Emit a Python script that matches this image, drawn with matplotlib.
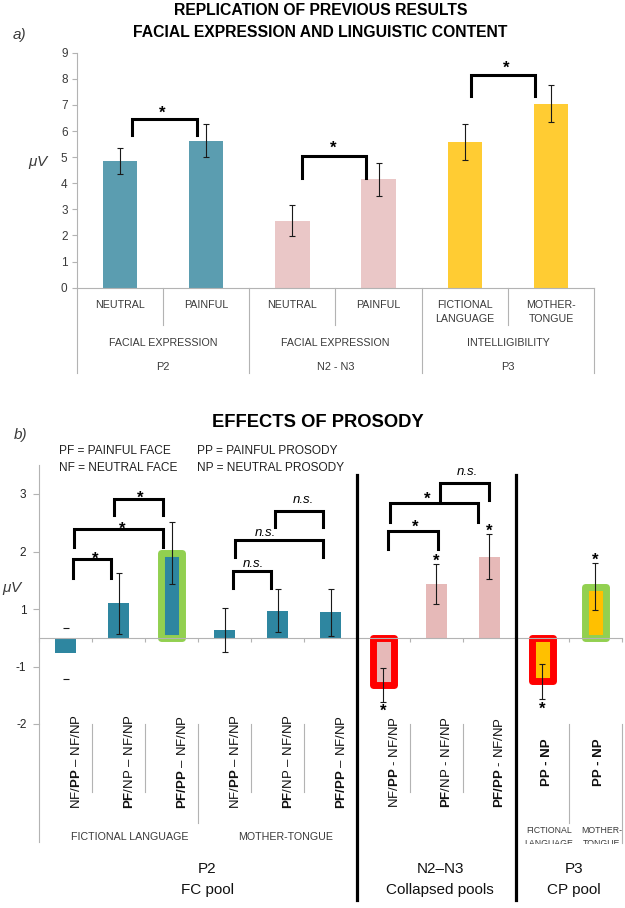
import numpy as np
import matplotlib
matplotlib.use('Agg')
import matplotlib.pyplot as plt
from matplotlib.transforms import Bbox, TransformedBbox, offset_copy

# ------------------------------------------------------------------ data
# panel a: replication
a_names = ['NEUTRAL', 'PAINFUL', 'NEUTRAL', 'PAINFUL', 'FICTIONAL\nLANGUAGE', 'MOTHER-\nTONGUE']
a_factor = ['FACIAL EXPRESSION', 'FACIAL EXPRESSION', 'INTELLIGIBILITY']
a_component = ['P2', 'N2 - N3', 'P3']
a_mean = [4.85, 5.63, 2.57, 4.15, 5.58, 7.05]
a_err = [0.50, 0.63, 0.60, 0.63, 0.68, 0.72]
a_color = ['#5b9db0', '#5b9db0', '#eac7c7', '#eac7c7', '#ffcc33', '#ffcc33']

# panel b: prosody effects (values in tick steps, zero line sits half way
# between the "1" and "-1" ticks as in the original)
b_names = [r'NF/$\mathbf{PP}$ – NF/NP', r'$\mathbf{PF}$/NP – NF/NP', r'$\mathbf{PF/PP}$ – NF/NP',
           r'NF/$\mathbf{PP}$ – NF/NP', r'$\mathbf{PF}$/NP – NF/NP', r'$\mathbf{PF/PP}$ – NF/NP',
           r'NF/$\mathbf{PP}$ - NF/NP', r'$\mathbf{PF}$/NP - NF/NP', r'$\mathbf{PF/PP}$ - NF/NP',
           'PP - NP', 'PP - NP']
b_bold = [False] * 9 + [True] * 2
b_mean = [-0.27, 0.60, 1.48, 0.13, 0.47, 0.44, -0.82, 0.94, 1.41, -0.76, 0.89]
b_err = [0.44, 0.53, 0.54, 0.38, 0.37, 0.41, 0.29, 0.35, 0.39, 0.31, 0.41]
b_color = ['#2e86a0'] * 6 + ['#e6b9b8'] * 3 + ['#ffc000'] * 2
b_frame = ['none', 'none', '#92d050', 'none', 'none', 'none',
           '#ff0000', 'none', 'none', '#ff0000', '#92d050']
b_star = [False] * 6 + [True] * 5
b_errline = [False] + [True] * 10
b_yticks = ['-2', '-1', '1', '2', '3']
b_lang = ['FICTIONAL LANGUAGE', 'MOTHER-TONGUE']
b_lang_p3 = ['FICTIONAL\nLANGUAGE', 'MOTHER-\nTONGUE']
b_component = ['P2', 'N2\u2013N3', 'P3']
b_pool = ['FC pool', 'Collapsed pools', 'CP pool']
legend_rows = [['PF = PAINFUL FACE', 'PP = PAINFUL PROSODY'],
               ['NF = NEUTRAL FACE', 'NP = NEUTRAL PROSODY']]

plt.rcParams['font.family'] = ['Liberation Sans', 'DejaVu Sans']
plt.rcParams['mathtext.fontset'] = 'custom'
plt.rcParams['mathtext.rm'] = 'Liberation Sans'
plt.rcParams['mathtext.bf'] = 'Liberation Sans:bold'
plt.rcParams['mathtext.it'] = 'Liberation Sans:italic'

GRAY = '#b3b3b3'
TXT = '#3a3a3a'
W, H = 625, 908
fig = plt.figure(figsize=(W / 100, H / 100), dpi=100)


def fx(px):
    return px / W


def fy(py):
    return 1 - py / H


def star(ax, x, y, fs=12):
    tr = offset_copy(ax.transData, fig=fig, y=-0.585 * fs, units='points')
    ax.text(x, y, '*', transform=tr, ha='center', va='baseline', fontsize=fs,
            fontweight='bold', clip_on=False)


def ns(ax, x, y, fs=9.5):
    tr = offset_copy(ax.transData, fig=fig, y=-0.26 * fs, units='points')
    ax.text(x, y, 'n.s.', transform=tr, ha='center', va='baseline', fontsize=fs,
            style='italic', clip_on=False)


def bracket(ax, x0, x1, ytop, yleg, lw=2.2):
    ax.plot([x0, x0, x1, x1], [yleg, ytop, ytop, yleg], color='k', lw=lw,
            solid_joinstyle='miter', clip_on=False, zorder=5)


# ------------------------------------------------------------------ panel a
a_bot, a_top = 287.7, 52.7
ax_a = fig.add_axes([fx(76.7), fy(a_bot), fx(594.3 - 76.7), (a_bot - a_top) / H])
xa = np.arange(len(a_mean))
ax_a.bar(xa, a_mean, width=0.4, color=a_color, zorder=2)
ax_a.errorbar(xa, a_mean, yerr=a_err, fmt='none', ecolor='#1a1a1a', elinewidth=0.8,
              capsize=2.4, capthick=0.8, zorder=3)
ax_a.set_xlim(-0.5, 5.5)
ax_a.set_ylim(0, 9)
ax_a.set_yticks(range(10))
for s in ['top', 'right']:
    ax_a.spines[s].set_visible(False)
for s in ['left', 'bottom']:
    ax_a.spines[s].set_color(GRAY)
    ax_a.spines[s].set_linewidth(0.8)
ax_a.tick_params(axis='y', direction='out', length=3.6, width=0.8, color=GRAY,
                 labelcolor=TXT, labelsize=8.5, pad=3)
ax_a.tick_params(axis='x', length=0, labelbottom=False)

tra = ax_a.get_xaxis_transform()
ha_px = a_bot - a_top


def ya(py):
    return (a_bot - py) / ha_px


for k in range(7):
    ax_a.plot([k - 0.5, k - 0.5], [0, ya(373.3 if k % 2 == 0 else 325)], transform=tra,
              color=GRAY, lw=0.8, clip_on=False)
for i, name in enumerate(a_names):
    for j, line in enumerate(name.split('\n')):
        ax_a.text(i, ya(308.3 + 13.4 * j), line, transform=tra, ha='center', va='baseline',
                  fontsize=7.7, color=TXT)
for g in range(3):
    ax_a.text(2 * g + 0.5, ya(345.7), a_factor[g], transform=tra, ha='center',
              va='baseline', fontsize=7.7, color=TXT)
    ax_a.text(2 * g + 0.5, ya(370), a_component[g], transform=tra, ha='center',
              va='baseline', fontsize=7.9, color=TXT)

bracket(ax_a, 0.144, 0.89, 6.46, 5.85)
bracket(ax_a, 2.114, 2.852, 5.06, 4.20)
bracket(ax_a, 4.065, 4.81, 8.15, 7.35)
star(ax_a, 0.49, 6.87)
star(ax_a, 2.47, 5.53)
star(ax_a, 4.48, 8.60)

fig.text(fx(320.5), fy(15.3), 'REPLICATION OF PREVIOUS RESULTS', ha='center',
         va='baseline', fontsize=11.3, fontweight='bold')
fig.text(fx(320.5), fy(37.0), 'FACIAL EXPRESSION AND LINGUISTIC CONTENT', ha='center',
         va='baseline', fontsize=11.3, fontweight='bold')
fig.text(fx(12.7), fy(38.5), 'a)', ha='left', va='baseline', fontsize=11,
         style='italic', color=TXT)
fig.text(fx(28), fy(166), r'$\mu$V', ha='left', va='baseline', fontsize=11,
         style='italic', color=TXT)

# ------------------------------------------------------------------ panel b
b_bot, b_top = 724.0, 465.25
ax_b = fig.add_axes([fx(39.3), fy(b_bot), fx(621.7 - 39.3), (b_bot - b_top) / H])
xb = np.arange(len(b_mean))
bars = ax_b.bar(xb, b_mean, width=0.4, color=b_color, edgecolor=b_frame,
                linewidth=[5.0 if f != 'none' else 0 for f in b_frame], zorder=2)
for p in bars:
    p.set_joinstyle('round')
for i in range(len(b_mean)):
    eb = ax_b.errorbar(xb[i], b_mean[i], yerr=b_err[i], fmt='none', ecolor='#1a1a1a',
                       elinewidth=0.8, capsize=1.9, capthick=0.8, zorder=3)
    if not b_errline[i]:
        eb[2][0].set_visible(False)
    if b_star[i]:
        if b_mean[i] > 0:
            star(ax_b, xb[i], b_mean[i] + b_err[i] + 0.14)
        else:
            star(ax_b, xb[i], b_mean[i] - b_err[i] - 0.08)

ax_b.set_xlim(-0.5, 10.5)
ax_b.set_ylim(-1.5, 3.0)
ax_b.set_yticks([-1.5, -0.5, 0.5, 1.5, 2.5])
ax_b.set_yticklabels(b_yticks)
ax_b.set_xticks(np.arange(-0.5, 11, 1))
ax_b.tick_params(axis='x', direction='out', length=3, width=0.8, color=GRAY,
                 labelbottom=False)
ax_b.tick_params(axis='y', direction='out', length=4.3, width=0.8, color=GRAY,
                 labelcolor='#222222', labelsize=8.5, pad=5)
for s in ['top', 'right']:
    ax_b.spines[s].set_visible(False)
for s in ['left', 'bottom']:
    ax_b.spines[s].set_color(GRAY)
    ax_b.spines[s].set_linewidth(0.8)
ax_b.spines['bottom'].set_position(('data', 0))

trb = ax_b.get_xaxis_transform()
hb_px = b_bot - b_top


def yb(py):
    return (b_bot - py) / hb_px


# category frame below the plot
for xv, y1 in [(-0.5, 842), (0.5, 791.7), (1.5, 791.7), (2.5, 822.7), (3.5, 791.7),
               (4.5, 791.7), (6.5, 791.7), (7.5, 791.7), (9.5, 822.7), (10.5, 842.7)]:
    ax_b.plot([xv, xv], [0, yb(y1)], transform=trb, color=GRAY, lw=0.8, clip_on=False)
for xv in [5.5, 8.5]:
    ax_b.plot([xv, xv], [yb(475), yb(900)], transform=trb, color='k', lw=2.3,
              clip_on=False, zorder=6)

for i, name in enumerate(b_names):
    off = 0.08 if i >= 9 else 0.2
    ax_b.text(xb[i] + off, yb(762), name, transform=trb, rotation=90, ha='center',
              va='center', fontsize=9.5, color='#111111',
              fontweight='bold' if b_bold[i] else 'normal')

ax_b.text(1.21, yb(840), b_lang[0], transform=trb, ha='center', va='baseline',
          fontsize=7.7, color=TXT)
ax_b.text(4.15, yb(840), b_lang[1], transform=trb, ha='center', va='baseline',
          fontsize=7.7, color=TXT)
clip = TransformedBbox(Bbox([[0, fy(844)], [1, 1]]), fig.transFigure)
for k, lab in enumerate(b_lang_p3):
    for j, line in enumerate(lab.split('\n')):
        t = ax_b.text(9.12 + k, yb(833.3 + 12.4 * j), line, transform=trb, ha='center',
                      va='baseline', fontsize=6.3, color=TXT)
        t.set_clip_box(clip)
        t.set_clip_on(True)

for g, xc in enumerate([2.67, 7.07, 9.6]):
    ax_b.text(xc, yb(873.3), b_component[g], transform=trb, ha='center', va='baseline',
              fontsize=11, color='#111111')
    ax_b.text(xc, yb(894), b_pool[g], transform=trb, ha='center', va='baseline',
              fontsize=11, color='#111111')

# significance brackets
for x0, x1, yt, yl, lab, xl, ylab in [
        (0.131, 0.854, 1.364, 1.044, '*', 0.552, 1.457),
        (0.161, 1.830, 1.886, 1.583, '*', 1.056, 1.973),
        (0.916, 1.842, 2.408, 2.135, '*', 1.402, 2.523),
        (3.152, 3.870, 1.166, 0.860, 'n.s.', 3.536, 1.295),
        (3.196, 4.852, 1.695, 1.399, 'n.s.', 3.763, 1.827),
        (3.951, 4.852, 2.210, 1.931, 'n.s.', 4.486, 2.408),
        (6.091, 7.036, 1.857, 1.538, '*', 6.595, 2.018),
        (6.123, 7.780, 2.338, 2.018, '*', 6.828, 2.500),
        (7.068, 7.999, 2.686, 2.396, 'n.s.', 7.580, 2.888)]:
    bracket(ax_b, x0, x1, yt, yl)
    if lab == '*':
        star(ax_b, xl, ylab)
    else:
        ns(ax_b, xl, ylab)

fig.text(fx(318), fy(427.3), 'EFFECTS OF PROSODY', ha='center', va='baseline',
         fontsize=13.2, fontweight='bold')
fig.text(fx(14), fy(439), 'b)', ha='left', va='baseline', fontsize=11,
         style='italic', color=TXT)
for r, row in enumerate(legend_rows):
    for c, txt in enumerate(row):
        fig.text(fx([59.2, 197.2][c]), fy([454, 471][r]), txt, ha='left', va='baseline',
                 fontsize=8.6, color='#222222')
fig.text(fx(2), fy(592), r'$\mu$V', ha='left', va='baseline', fontsize=11,
         style='italic', color=TXT)

fig.savefig('out.png', dpi=100, facecolor='white')
